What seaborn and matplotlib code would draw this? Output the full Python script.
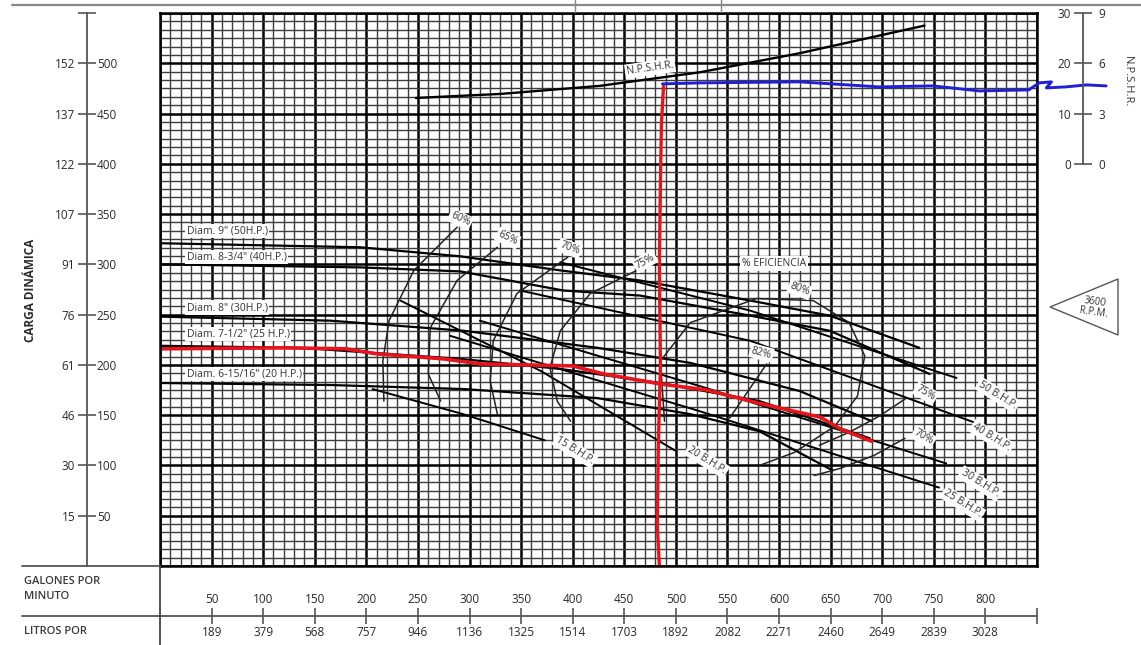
import numpy as np
import pandas as pd
import seaborn as sns
import matplotlib.pyplot as plt
from matplotlib.patches import Polygon
from matplotlib.lines import Line2D

# ---- axis values ----
gpm_ticks = [50, 100, 150, 200, 250, 300, 350, 400, 450, 500, 550, 600, 650, 700, 750, 800]
lpm_labels = ["189", "379", "568", "757", "946", "1136", "1325", "1514", "1703",
              "1892", "2082", "2271", "2460", "2649", "2839", "3028"]
head_ft_ticks = [50, 100, 150, 200, 250, 300, 350, 400, 450, 500]
head_m_labels = ["15", "30", "46", "61", "76", "91", "107", "122", "137", "152"]
npsh_ft_ticks = [0, 10, 20, 30]
npsh_m_labels = ["0", "3", "6", "9"]

# ---- head-capacity curves (gpm, ft) ----
d9_gpm = [1, 194, 291, 388, 465, 572, 649, 736]
d9_head = [321, 317, 308, 294, 284, 264, 249, 217]
d875_gpm = [1, 194, 291, 391, 465, 572, 649, 746]
d875_head = [300, 297, 293, 274, 269, 249, 234, 191]
d8_gpm = [1, 165, 294, 424, 514, 620, 690]
d8_head = [248, 244, 234, 217, 202, 174, 144]
d75_gpm = [1, 136, 291, 388, 485, 581, 688]
d75_head = [219, 217, 206, 196, 182, 164, 127]
d694_gpm = [1, 165, 294, 424, 514, 581, 652]
d694_head = [182, 180, 176, 167, 151, 134, 95]
diam_labels = ['Diam. 9" (50H.P.)', 'Diam. 8-3/4" (40H.P.)', 'Diam. 8" (30H.P.)',
               'Diam. 7-1/2" (25 H.P.)', 'Diam. 6-15/16" (20 H.P.)']
diam_label_head = [333, 307, 257, 231, 191]

# ---- brake horsepower lines ----
bhp50_gpm, bhp50_head = [388, 572, 772], [302, 254, 187]
bhp40_gpm, bhp40_head = [349, 572, 794], [274, 224, 141]
bhp30_gpm, bhp30_head = [310, 523, 762], [244, 179, 102]
bhp25_gpm, bhp25_head = [281, 523, 755], [229, 154, 78]
bhp20_gpm, bhp20_head = [233, 369, 499], [264, 194, 115]
bhp15_gpm, bhp15_head = [206, 294, 373], [176, 151, 125]
bhp_labels = ["50 B.H.P.", "40 B.H.P.", "30 B.H.P.", "25 B.H.P.", "20 B.H.P.", "15 B.H.P."]
bhp_label_gpm = [812, 806, 795, 778, 530, 402]
bhp_label_head = [170, 128, 82, 62, 105, 115]

# ---- efficiency curves ----
e60_gpm, e60_head = [288, 246, 222, 216, 217], [337, 294, 244, 204, 164]
e65_gpm, e65_head = [327, 288, 262, 260, 272], [317, 284, 237, 191, 164]
e70_gpm, e70_head = [395, 346, 323, 320, 327], [307, 271, 224, 184, 151]
e75_gpm, e75_head = [468, 417, 388, 378, 385, 398], [297, 271, 234, 197, 164, 144]
e80_gpm = [489, 485, 514, 578, 633, 668, 683, 676, 654, 615, 581]
e80_head = [144, 204, 242, 266, 264, 242, 209, 169, 139, 113, 100]
e82_gpm, e82_head = [588, 552], [201, 147]
e75r_gpm, e75r_head = [722, 697, 668, 639], [166, 149, 133, 120]
e70r_gpm, e70r_head = [722, 692, 659, 634], [127, 110, 97, 90]
eff_labels = ["60%", "65%", "70%", "75%", "80%", "82%", "% EFICIENCIA", "75%", "70%"]
eff_label_gpm = [291, 337, 397, 470, 620, 583, 595, 742, 740]
eff_label_head = [345, 326, 316, 303, 275, 212, 301, 172, 128]
eff_label_rot = [-25, -25, -20, 30, -20, -15, 0, -30, -30]

# ---- operating point (red) ----
op_gpm = [0, 120, 180, 210, 275, 310, 400, 430, 485, 530, 580, 640, 660, 690]
op_head = [216, 217, 216, 211, 206, 201, 199, 191, 181, 175, 162, 148, 136, 124]
vert_gpm = [488, 486, 485, 484, 485, 483, 482, 484]
vert_head = [477, 440, 380, 300, 200, 120, 40, 0]

# ---- NPSH (ft) ----
npshr_gpm = [248, 330, 426, 523, 620, 741]
npshr_ft = [13.1, 13.9, 15.5, 18.2, 22.0, 27.5]
avail_gpm = [487, 523, 620, 697, 749, 794, 842, 852, 864, 859, 878, 898, 917]
avail_ft = [15.9, 16.1, 16.3, 15.3, 15.5, 14.5, 14.7, 16.1, 16.3, 15.1, 15.3, 15.7, 15.5]

sns.set_style("white")
plt.rcParams["font.family"] = ["Open Sans", "DejaVu Sans"]

W, H = 1141, 645
fig = plt.figure(figsize=(W / 100, H / 100), dpi=100)


def fx(px):
    return px / W


def fy(py):
    return 1 - py / H


left, right, top, bottom = 160, 1037, 13, 566
ax = fig.add_axes([fx(left), fy(bottom), (right - left) / W, (bottom - top) / H])
ax.set_xlim(0, 850)
ax.set_ylim(0, 550)
ax.set_xticks(np.arange(0, 851, 50))
ax.set_xticks(np.arange(0, 851, 10), minor=True)
ax.set_yticks(np.arange(0, 551, 50))
ax.set_yticks(np.arange(0, 551, 50 / 6), minor=True)
ax.tick_params(which="both", length=0, labelbottom=False, labelleft=False)
ax.grid(which="major", color="black", lw=1.8)
ax.grid(which="minor", color="#3c3c3c", lw=1.0)
ax.set_axisbelow(True)
for s in ax.spines.values():
    s.set_color("black")
    s.set_linewidth(1.8)
ax.set_xlabel("")
ax.set_ylabel("")


def curve(a, x, y, color="black", lw=1.3, **kw):
    sns.lineplot(x=x, y=y, ax=a, sort=False, estimator=None, color=color,
                 lw=lw, legend=False, **kw)


for gx, gy in [(d9_gpm, d9_head), (d875_gpm, d875_head), (d8_gpm, d8_head),
               (d75_gpm, d75_head), (d694_gpm, d694_head)]:
    curve(ax, gx, gy, lw=1.6)
for gx, gy in [(bhp50_gpm, bhp50_head), (bhp40_gpm, bhp40_head), (bhp30_gpm, bhp30_head),
               (bhp25_gpm, bhp25_head), (bhp20_gpm, bhp20_head), (bhp15_gpm, bhp15_head)]:
    curve(ax, gx, gy, lw=1.4)
for gx, gy in [(e60_gpm, e60_head), (e65_gpm, e65_head), (e70_gpm, e70_head),
               (e75_gpm, e75_head), (e80_gpm, e80_head), (e82_gpm, e82_head),
               (e75r_gpm, e75r_head), (e70r_gpm, e70r_head)]:
    curve(ax, gx, gy, lw=1.1, color="#222222")

curve(ax, op_gpm, op_head, color="#e8141b", lw=2.6)
curve(ax, vert_gpm, vert_head, color="#e8141b", lw=2.4)

box = dict(facecolor="white", edgecolor="none", pad=1.2)
for lab, hy in zip(diam_labels, diam_label_head):
    ax.text(26, hy, lab, fontsize=7.5, color="#333", va="center", ha="left", bbox=box)
for lab, gx, hy in zip(bhp_labels, bhp_label_gpm, bhp_label_head):
    ax.text(gx, hy, lab, fontsize=7.5, color="#333", rotation=-32, ha="center",
            va="center", bbox=box, clip_on=False)
for lab, gx, hy, r in zip(eff_labels, eff_label_gpm, eff_label_head, eff_label_rot):
    ax.text(gx, hy, lab, fontsize=7.5, color="#333", rotation=r, ha="center",
            va="center", bbox=box)
ax.text(475, 495, "N.P.S.H.R.", fontsize=7.5, color="#333", rotation=8, ha="center",
        va="center", bbox=box)

# NPSH on its own scale (0 ft NPSH sits at 400 ft head, 5x scale)
axn = ax.twinx()
axn.set_ylim(-80, 30)
axn.set_yticks([])
for s in axn.spines.values():
    s.set_visible(False)
curve(axn, npshr_gpm, npshr_ft, lw=1.7)
curve(axn, avail_gpm, avail_ft, color="#1f1fd8", lw=2.1)
axn.lines[-1].set_clip_on(False)
axn.set_ylabel("")

# left ruler (head)
lr = fig.add_axes([fx(87), fy(bottom), 0.0001, (bottom - top) / H])
lr.set_ylim(0, 550)
lr.set_xticks([])
for k in ["top", "bottom", "right"]:
    lr.spines[k].set_visible(False)
lr.spines["left"].set_color("#555")
lr.spines["left"].set_linewidth(1.3)
lr.spines["left"].set_bounds(0, 550)
lr.set_yticks(head_ft_ticks + [550])
lr.set_yticklabels(head_m_labels + [""])
lr.tick_params(axis="y", direction="inout", length=13, width=1.2, color="#555",
               labelsize=8.5, labelcolor="#2a2a2a", pad=2)
lr2 = lr.twinx()
lr2.set_ylim(0, 550)
lr2.set_xticks([])
for s in lr2.spines.values():
    s.set_visible(False)
lr2.set_yticks(head_ft_ticks)
lr2.set_yticklabels([str(v) for v in head_ft_ticks])
lr2.tick_params(axis="y", length=0, labelsize=8.5, labelcolor="#2a2a2a", pad=7)

# right ruler (NPSH)
rr = fig.add_axes([fx(1083), fy(bottom), 0.0001, (bottom - top) / H])
rr.set_ylim(-80, 30)
rr.set_xticks([])
for k in ["top", "bottom", "right"]:
    rr.spines[k].set_visible(False)
rr.spines["left"].set_color("#555")
rr.spines["left"].set_linewidth(1.3)
rr.spines["left"].set_bounds(0, 30)
rr.set_yticks(npsh_ft_ticks)
rr.set_yticklabels([str(v) for v in npsh_ft_ticks])
rr.tick_params(axis="y", direction="inout", length=13, width=1.2, color="#555",
               labelsize=8.5, labelcolor="#2a2a2a", pad=2)
rr2 = rr.twinx()
rr2.set_ylim(-80, 30)
rr2.set_xticks([])
for s in rr2.spines.values():
    s.set_visible(False)
rr2.set_yticks(npsh_ft_ticks)
rr2.set_yticklabels(npsh_m_labels)
rr2.tick_params(axis="y", length=0, labelsize=8.5, labelcolor="#2a2a2a", pad=11)
fig.text(fx(1127), fy(82), "N.P.S.H.R.", rotation=-90, fontsize=8, color="#333",
         ha="center", va="center")

# bottom ruler (flow)
bx = fig.add_axes([fx(left), fy(616), (right - left) / W, 0.0001])
bx.set_xlim(0, 850)
bx.set_yticks([])
for k in ["top", "left", "right"]:
    bx.spines[k].set_visible(False)
bx.spines["bottom"].set_color("#555")
bx.spines["bottom"].set_linewidth(1.3)
bx.set_xticks(gpm_ticks + [850])
bx.set_xticklabels(lpm_labels + [""])
bx.tick_params(axis="x", direction="inout", length=11, width=1.2, color="#555",
               labelsize=8.5, labelcolor="#2a2a2a", pad=2)
bx2 = bx.twiny()
bx2.set_xlim(0, 850)
bx2.set_yticks([])
for s in bx2.spines.values():
    s.set_visible(False)
bx2.set_xticks(gpm_ticks)
bx2.set_xticklabels([str(v) for v in gpm_ticks])
bx2.tick_params(axis="x", length=0, labelsize=8.5, labelcolor="#2a2a2a", pad=7)

# frame lines around the chart sheet
for (x0, y0, x1, y1, c, w) in [(22, 616, 160, 616, "#555", 1.3),
                                 (22, 566, 160, 566, "#555", 1.3),
                                 (160, 566, 160, 645, "#444", 1.3),
                                 (12, 5, 1141, 5, "#888", 1.6),
                                 (575, 0, 575, 12, "#888", 1.0),
                                 (721, 0, 721, 12, "#888", 1.0)]:
    fig.add_artist(Line2D([fx(x0), fx(x1)], [fy(y0), fy(y1)], color=c, lw=w,
                          transform=fig.transFigure))

fig.text(fx(30), fy(290), "CARGA DINÁMICA", rotation=90, fontsize=8.5, fontweight="bold",
         color="#2a2a2a", ha="center", va="center")
fig.text(fx(24), fy(589), "GALONES POR\nMINUTO", fontsize=8, color="#3a3a3a",
         ha="left", va="center", linespacing=1.45, fontweight="semibold")
fig.text(fx(24), fy(632), "LITROS POR", fontsize=8, color="#3a3a3a",
         ha="left", va="center", fontweight="semibold")

fig.add_artist(Polygon([(fx(1050), fy(307)), (fx(1118), fy(279)), (fx(1118), fy(335))],
                       closed=True, facecolor="white", edgecolor="#555", lw=1.0,
                       transform=fig.transFigure))
fig.text(fx(1094), fy(307), "3600\nR.P.M.", fontsize=7, color="#333", ha="center",
         va="center", linespacing=0.9, rotation=-8)

fig.savefig("out.png", dpi=100, facecolor="white")
